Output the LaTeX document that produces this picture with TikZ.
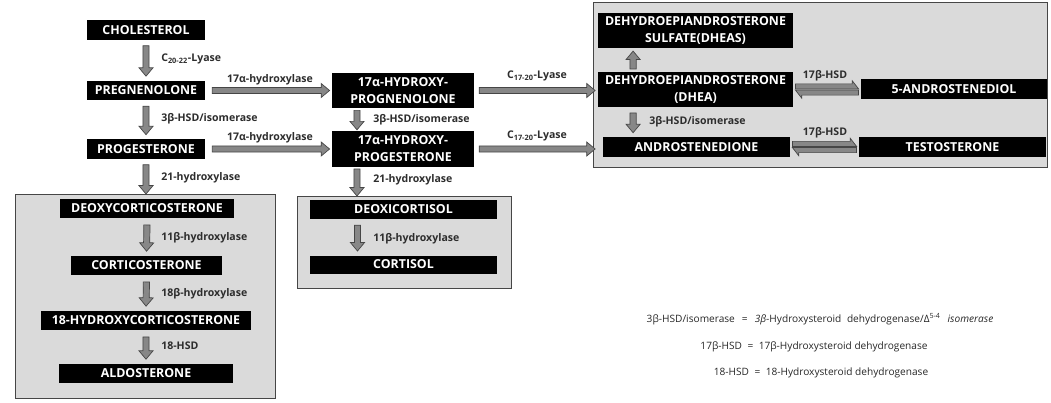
\documentclass[tikz,border=0pt]{standalone}
\usepackage{fontspec}
\setmainfont{Open Sans}
\definecolor{boxgray}{RGB}{218, 218, 218}
\definecolor{arrowgray}{RGB}{135, 135, 135}
\definecolor{edgegray}{RGB}{70, 70, 70}
\definecolor{labelgray}{RGB}{45, 45, 45}
\usetikzlibrary{calc, positioning}

\tikzset{
	steroid/.style={fill=black, text=white, font=\bfseries\fontsize{8.8}{12}\selectfont,
		align=center, inner sep=0pt, minimum height=0.49cm},
	enzyme/.style={text=labelgray, font=\bfseries\fontsize{7.5}{8}\selectfont, inner sep=0pt},
	legend/.style={text=black!85, font=\fontsize{7.2}{8}\selectfont, inner sep=0pt},
	group/.style={fill=boxgray, draw=edgegray, line width=0.6pt, inner sep=0pt, anchor=north west},
	blockarr/.style={fill=arrowgray, draw=edgegray, line width=0.5pt, line join=miter}
}

% block arrow: from, to, gap at start, gap at end
\newcommand{\blockarrow}[4]{%
	\draw[blockarr] let \p1=(#1), \p2=(#2), \n1={atan2(\y2-\y1,\x2-\x1)},
		\n2={veclen(\x2-\x1,\y2-\y1)} in [shift={(\p1)}, rotate=\n1]
		(#3,-2.2pt) -- ({\n2-#4-6pt},-2.2pt) -- ({\n2-#4-6pt},-5pt) -- ({\n2-#4},0pt)
		-- ({\n2-#4-6pt},5pt) -- ({\n2-#4-6pt},2.2pt) -- (#3,2.2pt) -- cycle;}
% half arrow, barb on the left of its direction
\newcommand{\halfarrow}[2]{%
	\draw[blockarr] let \p1=(#1), \p2=(#2), \n1={atan2(\y2-\y1,\x2-\x1)},
		\n2={veclen(\x2-\x1,\y2-\y1)} in [shift={(\p1)}, rotate=\n1]
		(1.5pt,0.4pt) -- ({\n2-1.5pt},0.4pt) -- ({\n2-6pt},6.2pt) -- ({\n2-6pt},4pt)
		-- (1.5pt,4pt) -- cycle;}

\begin{document}
\begin{tikzpicture}[x=0.025cm, y=-0.025cm]
	\useasboundingbox (0,0) rectangle (1051,402);
	
	\node[group, minimum width=6.5cm, minimum height=5.1cm] (leftbox) at (15,194) {};
	\node[group, minimum width=5.35cm, minimum height=2.3cm] (midbox) at (297,196) {};
	\node[group, minimum width=11.35cm, minimum height=4.125cm] (rightbox) at (593,2) {};
	
	\node[steroid, minimum width=2.95cm] (chol) at (146,30) {CHOLESTEROL};
	\node[steroid, minimum width=2.95cm] (preg) at (146,90.5) {PREGNENOLONE};
	\node[steroid, minimum width=2.95cm] (prog) at (146,149) {PROGESTERONE};
	\node[steroid, minimum width=4.35cm] (doc) at (147,208.5) {DEOXYCORTICOSTERONE};
	\node[steroid, minimum width=3.775cm] (cort) at (146.5,265.5) {CORTICOSTERONE};
	\node[steroid, minimum width=5.25cm] (ohcort) at (146,320.5) {18-HYDROXYCORTICOSTERONE};
	\node[steroid, minimum width=4.35cm] (aldo) at (146,373.5) {ALDOSTERONE};
	
	\node[steroid, minimum width=3.55cm, minimum height=0.875cm] (ohpreg) at (403,90.5) {17α-HYDROXY-\\PROGNENOLONE};
	\node[steroid, minimum width=3.55cm, minimum height=0.875cm] (ohprog) at (403,149) {17α-HYDROXY-\\PROGESTERONE};
	\node[steroid, minimum width=4.675cm] (doxc) at (403.5,209.5) {DEOXICORTISOL};
	\node[steroid, minimum width=4.675cm, minimum height=0.45cm] (cortisol) at (403.5,264.5) {CORTISOL};
	
	\node[steroid, minimum width=4.875cm, minimum height=0.875cm] (dheas) at (695.5,30.5) {DEHYDROEPIANDROSTERONE\\SULFATE(DHEAS)};
	\node[steroid, minimum width=4.875cm, minimum height=0.875cm] (dhea) at (695.5,89.5) {DEHYDROEPIANDROSTERONE\\(DHEA)};
	\node[steroid, minimum width=4.65cm] (adiol) at (954,89) {5-ANDROSTENEDIOL};
	\node[steroid, minimum width=4.675cm] (andro) at (696.5,147) {ANDROSTENEDIONE};
	\node[steroid, minimum width=4.675cm] (testo) at (952.5,147) {TESTOSTERONE};
	
	\blockarrow{chol.south}{preg.north}{4pt}{3pt}
	\blockarrow{preg.south}{prog.north}{4pt}{3pt}
	\blockarrow{prog.south}{prog.south |- leftbox.north}{4pt}{0pt}
	\blockarrow{doc.south}{cort.north}{4.5pt}{3pt}
	\blockarrow{cort.south}{ohcort.north}{4.5pt}{3pt}
	\blockarrow{ohcort.south}{aldo.north}{4.5pt}{3pt}
	
	\blockarrow{preg.east}{ohpreg.west}{5pt}{1.5pt}
	\blockarrow{prog.east}{ohprog.west}{5pt}{1.5pt}
	\blockarrow{[xshift=-1.15cm]ohpreg.south}{[xshift=-1.15cm]ohprog.north}{1.5pt}{1pt}
	\blockarrow{[xshift=-1.15cm]ohprog.south}{[xshift=-1.15cm]ohprog.south |- midbox.north}{1.5pt}{0pt}
	\blockarrow{[xshift=-1.15cm]doxc.south}{[xshift=-1.15cm]cortisol.north}{4pt}{3pt}
	
	\blockarrow{ohpreg.east}{ohpreg.east -| rightbox.west}{3.5pt}{-1.5pt}
	\blockarrow{ohprog.east}{ohprog.east -| rightbox.west}{3.5pt}{-1.5pt}
	\blockarrow{[xshift=-1.56cm]dhea.north}{[xshift=-1.56cm]dheas.south}{2pt}{2pt}
	\blockarrow{[xshift=-1.56cm]dhea.south}{[xshift=-1.56cm]dhea.south |- andro.north}{4pt}{3pt}
	
	\halfarrow{dhea.east}{dhea.east -| adiol.west}
	\halfarrow{dhea.east -| adiol.west}{dhea.east}
	\halfarrow{andro.east}{testo.west}
	\halfarrow{testo.west}{andro.east}
	
	\node[enzyme, anchor=west] (lyase) at (161,59) {C\textsubscript{20-22}-Lyase};
	\node[enzyme] (hyd17a) at (270,80) {17α-hydroxylase};
	\node[enzyme, anchor=west] (hsd3b) at (161,119) {3β-HSD/isomerase};
	\node[enzyme] (hyd17b) at (270,138) {17α-hydroxylase};
	\node[enzyme, anchor=west] (hyd21) at (161,178) {21-hydroxylase};
	\node[enzyme, anchor=west] (hyd11) at (161,238) {11β-hydroxylase};
	\node[enzyme, anchor=west] (hyd18) at (161,294) {18β-hydroxylase};
	\node[enzyme, anchor=west] (hsd18) at (161,346) {18-HSD};
	
	\node[enzyme, anchor=west] (hsd3bm) at (373,120) {3β-HSD/isomerase};
	\node[enzyme, anchor=west] (hyd21m) at (373,180) {21-hydroxylase};
	\node[enzyme, anchor=west] (hyd11m) at (373,239) {11β-hydroxylase};
	\node[enzyme] (lyasea) at (537,76) {C\textsubscript{17-20}-Lyase};
	\node[enzyme] (lyaseb) at (537,136) {C\textsubscript{17-20}-Lyase};
	
	\node[enzyme, anchor=west] (hsd3br) at (649,122) {3β-HSD/isomerase};
	\node[enzyme] (hsd17a) at (825,76) {17β-HSD};
	\node[enzyme] (hsd17b) at (825,133) {17β-HSD};
	
	\node[legend] (key1) at (820,319) {3β-HSD/isomerase\hspace{5pt}=\hspace{5pt}\textit{3β}-Hydroxysteroid\hspace{4pt}dehydrogenase/Δ\textsuperscript{5-4}\hspace{5pt}\textit{isomerase}};
	\node[legend] (key2) at (814,347) {17β-HSD \;=\; 17β-Hydroxysteroid dehydrogenase};
	\node[legend] (key3) at (821,373) {18-HSD \;=\; 18-Hydroxysteroid dehydrogenase};
\end{tikzpicture}
\end{document}
